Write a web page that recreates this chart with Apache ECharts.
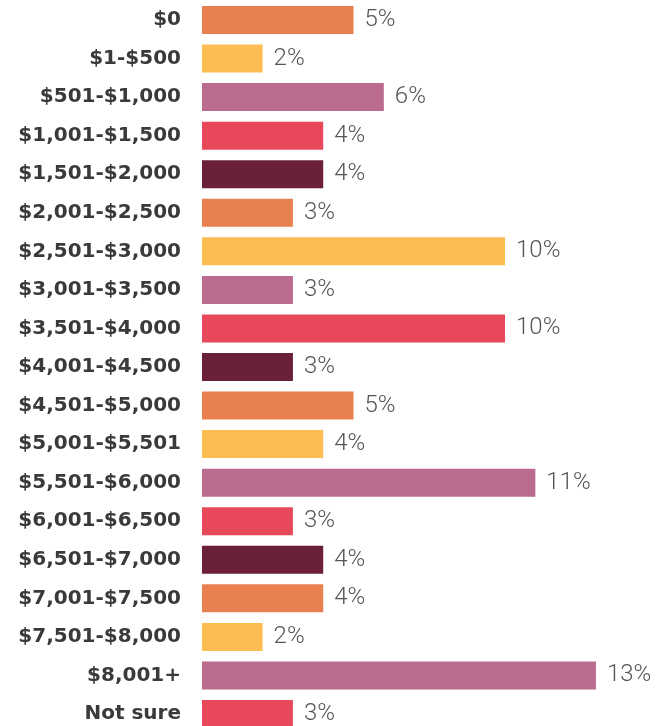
<!DOCTYPE html>
<html>
<head>
<meta charset="utf-8">
<style>html,body{margin:0;padding:0;background:#fff;}#c{width:659px;height:726px;}</style>
<script src="https://cdn.jsdelivr.net/npm/echarts@6/dist/echarts.min.js"></script>
</head>
<body>
<div id="c"></div>
<script>
const categories = ["$0","$1-$500","$501-$1,000","$1,001-$1,500","$1,501-$2,000","$2,001-$2,500","$2,501-$3,000","$3,001-$3,500","$3,501-$4,000","$4,001-$4,500","$4,501-$5,000","$5,001-$5,501","$5,501-$6,000","$6,001-$6,500","$6,501-$7,000","$7,001-$7,500","$7,501-$8,000","$8,001+","Not sure"];
const values = [5,2,6,4,4,3,10,3,10,3,5,4,11,3,4,4,2,13,3];
const palette = ["#E8804F","#FDBD52","#BA6B8E","#E8495A","#6A2038"];

const chart = echarts.init(document.getElementById('c'));
chart.setOption({
  animation: false,
  grid: { left: 202, top: 0.7, right: 17.6, bottom: -7.3, containLabel: false, outerBoundsMode: 'none' },
  xAxis: { type: 'value', min: 0, max: 14.5, show: false },
  yAxis: {
    type: 'category', data: categories, inverse: true,
    axisLine: { show: false }, axisTick: { show: false }, splitLine: { show: false },
    axisLabel: { margin: 21, color: '#3a3a3a', fontFamily: 'DejaVu Sans', fontWeight: 'bold', fontSize: 20 }
  },
  series: [{
    type: 'bar', barWidth: 28,
    data: values.map((v, i) => ({ value: v, itemStyle: { color: palette[i % palette.length] } })),
    label: { show: true, position: 'right', distance: 11, formatter: '{c}%', color: '#555', fontFamily: 'Roboto', fontWeight: 300, fontSize: 24 }
  }]
});
</script>
</body>
</html>
